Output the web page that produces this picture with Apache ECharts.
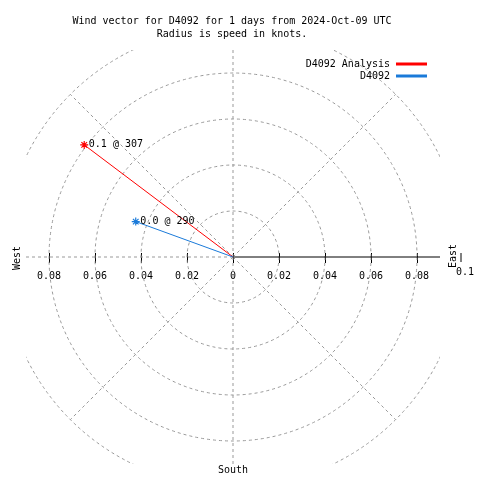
<!DOCTYPE html>
<html><head><meta charset="utf-8">
<script src="https://cdn.jsdelivr.net/npm/echarts@6/dist/echarts.min.js"></script>
<style>html,body{margin:0;padding:0;background:#fff}#c{width:480px;height:480px}</style>
</head><body><div id="c"></div>
<script>
// Data
const seriesNames = ['D4092 Analysis', 'D4092'];
const speeds = [0.081, 0.045];        // knots
const directions = [307, 290];        // degrees, compass
const pointLabels = ['0.1 @ 307', '0.0 @ 290'];
const colors = ['#ff0000', '#1a7ad9'];
const ringRadii = [0.02, 0.04, 0.06, 0.08, 0.1];
const spokeAngles = [45, 90, 135, 180, 225, 270, 315, 0];
const tickValues = [-0.08, -0.06, -0.04, -0.02, 0, 0.02, 0.04, 0.06, 0.08];
const axisRange = 0.09;

const FONT = 'DejaVu Sans Mono';
const chart = echarts.init(document.getElementById('c'));

function toXY(s, d) {
  const r = d * Math.PI / 180;
  return [s * Math.sin(r), s * Math.cos(r)];
}

const gridSeries = {
  type: 'custom', silent: true, clip: true, z: 1,
  xAxisIndex: 0, yAxisIndex: 0,
  data: [0],
  renderItem: function (params, api) {
    const c = api.coord([0, 0]);
    const children = [];
    ringRadii.forEach(function (rr) {
      const px = api.size([rr, 0])[0];
      children.push({type: 'circle', shape: {cx: c[0], cy: c[1], r: px},
        style: {fill: 'none', stroke: '#999', lineWidth: 1, lineDash: [3, 3]}});
    });
    const outer = ringRadii[ringRadii.length - 1];
    spokeAngles.forEach(function (a) {
      if (a === 90) return; // east drawn as solid axis
      const p = api.coord(toXY(outer, a));
      children.push({type: 'line', shape: {x1: c[0], y1: c[1], x2: p[0], y2: p[1]},
        style: {stroke: '#999', lineWidth: 1, lineDash: [3, 3]}});
    });
    const e = api.coord([axisRange, 0]);
    children.push({type: 'line', shape: {x1: c[0], y1: c[1], x2: e[0], y2: e[1]},
      style: {stroke: '#000', lineWidth: 1}});
    return {type: 'group', children: children};
  }
};

const dataSeries = seriesNames.map(function (name, i) {
  const p = toXY(speeds[i], directions[i]);
  return {
    name: name, type: 'line', z: 5, xAxisIndex: 0, yAxisIndex: 0,
    data: [[0, 0], {value: p, symbol: 'path://M0,-5L0,5M-5,0L5,0M-3.5,-3.5L3.5,3.5M-3.5,3.5L3.5,-3.5',
      symbolSize: 8,
      label: {show: true, position: 'right', distance: 0, formatter: pointLabels[i],
        fontFamily: FONT, fontSize: 10, color: '#000'}}],
    symbol: 'none', showSymbol: true,
    lineStyle: {color: colors[i], width: 1},
    itemStyle: {color: colors[i], borderColor: colors[i], borderWidth: 1.2},
    animation: false
  };
});

const hiddenAxis = {axisLine: {show: false}, axisTick: {show: false}, axisLabel: {show: false}, splitLine: {show: false}};

chart.setOption({
  animation: false,
  title: {
    text: 'Wind vector for D4092 for 1 days from 2024-Oct-09 UTC\nRadius is speed in knots.',
    left: 227, top: 10, textAlign: 'center',
    textStyle: {fontFamily: FONT, fontSize: 10, fontWeight: 'normal', color: '#000', lineHeight: 13}
  },
  legend: {
    orient: 'vertical', right: 48, top: 54, align: 'right',
    icon: 'rect', itemWidth: 29, itemHeight: 1, itemGap: 2,
    textStyle: {fontFamily: FONT, fontSize: 10, color: '#000', padding: [0, 2, 0, 0]},
    data: seriesNames.map(function (n, i) { return {name: n, itemStyle: {color: colors[i]}}; })
  },
  grid: [
    {left: 26, right: 40, top: 50, bottom: 16},
    {left: 26, right: 40, top: 50, bottom: 223}
  ],
  xAxis: [
    Object.assign({type: 'value', min: -axisRange, max: axisRange, gridIndex: 0}, hiddenAxis),
    {type: 'value', min: -axisRange, max: axisRange, gridIndex: 1, position: 'bottom',
      axisLine: {show: false}, splitLine: {show: false},
      axisTick: {show: true, length: 6, customValues: tickValues, lineStyle: {color: '#000'}},
      axisLabel: {show: true, customValues: tickValues, margin: 14,
        fontFamily: FONT, fontSize: 10, color: '#000',
        formatter: function (v) { return String(Math.abs(Math.round(v * 100) / 100)); }}},
    {type: 'value', min: -axisRange, max: axisRange, gridIndex: 1, position: 'bottom', offset: 0,
      axisLine: {show: false}, splitLine: {show: false},
      axisTick: {show: true, inside: true, length: 4, customValues: tickValues, lineStyle: {color: '#000'}},
      axisLabel: {show: false}}
  ],
  yAxis: [
    Object.assign({type: 'value', min: -axisRange, max: axisRange, gridIndex: 0}, hiddenAxis),
    Object.assign({type: 'value', min: 0, max: axisRange, gridIndex: 1}, hiddenAxis)
  ],
  graphic: [
    {type: 'text', x: 12, y: 270, rotation: Math.PI / 2, style: {text: 'West', font: '10px "DejaVu Sans Mono"', fill: '#000'}, z: 10},
    {type: 'text', x: 448, y: 268, rotation: Math.PI / 2, style: {text: 'East', font: '10px "DejaVu Sans Mono"', fill: '#000'}, z: 10},
    {type: 'line', shape: {x1: 461, y1: 253, x2: 461, y2: 262}, style: {stroke: '#000', lineWidth: 1}, z: 10},
    {type: 'text', x: 456, y: 267, style: {text: '0.1', font: '10px "DejaVu Sans Mono"', fill: '#000'}, z: 10},
    {type: 'text', x: 233, y: 465, style: {text: 'South', font: '10px "DejaVu Sans Mono"', fill: '#000', align: 'center'}, z: 10}
  ],
  series: [gridSeries].concat(dataSeries)
});
</script></body></html>
